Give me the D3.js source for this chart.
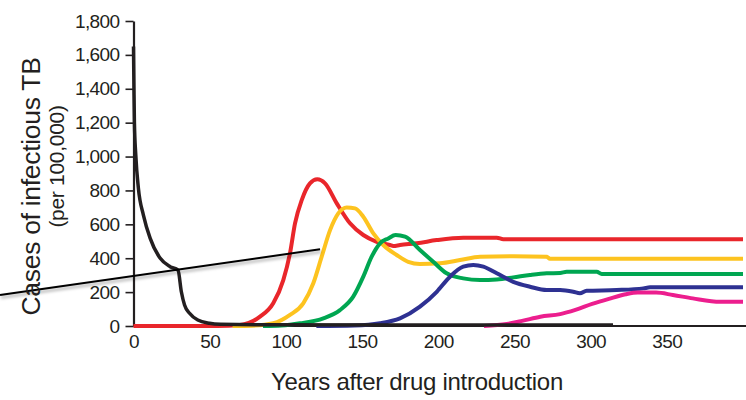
<!DOCTYPE html>
<html>
<head>
<meta charset="utf-8">
<script src="https://cdn.jsdelivr.net/npm/d3@7"></script>
<style>
  body { margin: 0; background: #fff; }
  svg { display: block; }
  text { font-family: "Liberation Sans", Arial, Helvetica, sans-serif; fill: #231f20; }
</style>
</head>
<body>
<svg id="chart" width="746" height="400"></svg>
<script>
// Axis ticks
const yearTicks = [0, 50, 100, 150, 200, 250, 300, 350];
const caseTicks = [0, 200, 400, 600, 800, 1000, 1200, 1400, 1600, 1800];

// Cases of infectious TB per 100,000, as [years after introduction, cases]
const drugSensitive = [
  [0, 1650], [0.3, 1400], [0.6, 1200], [1.5, 1009], [3.2, 814], [6.5, 655],
  [10.9, 519], [17.4, 401], [24, 350], [29.2, 330], [31.4, 202], [33.5, 124],
  [36.8, 75], [42.2, 35], [49.9, 16], [57, 10], [80, 7], [200, 6], [314.7, 6]
];
const strain1 = [
  [0, 0], [55, 0], [69.9, 6], [83, 55], [91.7, 134], [98.3, 271], [102.7, 429],
  [106, 606], [110.4, 743], [115.8, 842], [120.6, 866], [125.7, 842], [133.4, 724],
  [142.1, 606], [150.8, 537], [159.6, 497], [168.3, 478], [170.5, 472], [174.9, 478],
  [185.9, 488], [199, 507], [216.4, 521], [238.4, 521], [242.7, 512], [400, 512]
];
const strain2 = [
  [65, 0], [78, 2], [91.7, 16], [102.7, 65], [111.4, 134], [118, 252], [123.5, 409],
  [129, 566], [134.4, 665], [139.9, 700], [145.4, 694], [150.8, 645], [157.4, 547],
  [163.9, 478], [172.7, 419], [180.3, 379], [188, 366], [201.1, 370], [214.3, 389],
  [227.4, 409], [249.2, 412], [271.2, 409], [273.3, 397], [400, 397]
];
const strain3 = [
  [85, 0], [97, 3], [109.3, 16], [124.6, 45], [135.5, 94], [144.2, 173], [150.8, 291],
  [156.3, 409], [161.8, 488], [167.2, 517], [172, 537], [178.2, 527], [188, 448],
  [196.7, 379], [205.5, 311], [216.4, 281], [227.4, 271], [238.4, 275], [249.2, 287],
  [260.2, 301], [271.2, 311], [280, 313], [284.3, 320], [304, 320], [307.3, 307], [400, 307]
];
const strain4 = [
  [120, 0], [145, 3], [161.8, 16], [174.9, 45], [188, 114], [199, 202], [207.7, 291],
  [216.4, 350], [223, 360], [229.6, 350], [238.4, 311], [249.2, 261], [260.2, 232],
  [271.2, 212], [280, 212], [288.6, 202], [293, 193], [297.4, 208], [317.1, 212],
  [334.6, 222], [339, 228], [400, 228]
];
const strain5 = [
  [230, 0], [245, 12], [255, 30], [267, 55], [280, 70], [290, 95], [301, 130],
  [312, 160], [323, 187], [331, 197], [343, 197], [354, 183], [367, 163], [385, 143], [400, 143]
];

// Pointer line, in [years, cases]
const pointer = [[-87.6, 183], [122.4, 453]];

const series = [
  { points: strain1, color: "#e9262b", width: 4 },
  { points: strain2, color: "#fdc31f", width: 4 },
  { points: strain3, color: "#00a651", width: 4 },
  { points: strain4, color: "#2e3192", width: 4 },
  { points: strain5, color: "#ec1e8e", width: 4 },
  { points: drugSensitive, color: "#231f20", width: 3.5 }
];

const svg = d3.select("#chart");

const x = d3.scaleLinear().domain([0, 400]).range([133.5, 743]);
const y = d3.scaleLinear().domain([0, 1800]).range([326, 21]);

const defs = svg.append("defs");
const shadow = defs.append("filter").attr("id", "soft-shadow")
  .attr("x", "-10%").attr("y", "-200%").attr("width", "120%").attr("height", "500%");
shadow.append("feDropShadow")
  .attr("dx", 1).attr("dy", 2.5).attr("stdDeviation", 1.6)
  .attr("flood-color", "#000").attr("flood-opacity", 0.35);

// Axes
const yAxis = d3.axisLeft(y)
  .tickValues(caseTicks)
  .tickFormat(d3.format(","))
  .tickSize(8).tickSizeOuter(0).tickPadding(6);

const gy = svg.append("g").attr("transform", `translate(${x(0)},0)`).call(yAxis);
gy.select(".domain").attr("stroke", "#231f20").attr("stroke-width", 2.2);
gy.selectAll(".tick line").attr("stroke", "#231f20").attr("stroke-width", 1.6);
gy.selectAll(".tick text")
  .style("font-size", "19px").attr("letter-spacing", "-0.6px").attr("fill", "#231f20");

const xAxis = d3.axisBottom(x)
  .tickValues(yearTicks)
  .tickSize(0).tickSizeOuter(0).tickPadding(9);

const gx = svg.append("g").attr("transform", `translate(0,${y(0)})`).call(xAxis);
gx.select(".domain").attr("stroke", "#231f20").attr("stroke-width", 1.8)
  .attr("d", `M${x(0)},0H746`);
gx.selectAll(".tick text")
  .style("font-size", "19px").attr("letter-spacing", "-0.6px").attr("fill", "#231f20");

// Series lines (drug-sensitive curve drawn last, on top)
const line = d3.line()
  .x(d => x(d[0]))
  .y(d => y(d[1]))
  .curve(d3.curveMonotoneX);

svg.append("g").selectAll("path")
  .data(series)
  .join("path")
  .attr("d", d => line(d.points))
  .attr("fill", "none")
  .attr("stroke", d => d.color)
  .attr("stroke-width", d => d.width)
  .attr("stroke-linejoin", "round")
  .attr("stroke-linecap", "butt");

// Pointer line
svg.append("path")
  .attr("d", d3.line().x(d => x(d[0])).y(d => y(d[1]))(pointer))
  .attr("fill", "none")
  .attr("stroke", "#000")
  .attr("stroke-width", 2)
  .attr("filter", "url(#soft-shadow)");

// Axis titles
svg.append("text")
  .attr("transform", "translate(40,186.5) rotate(-90)")
  .attr("text-anchor", "middle")
  .style("font-size", "26.5px")
  .attr("letter-spacing", "-0.3px")
  .text("Cases of infectious TB");

svg.append("text")
  .attr("transform", "translate(64,166.5) rotate(-90)")
  .attr("text-anchor", "middle")
  .style("font-size", "21px")
  .attr("letter-spacing", "-0.3px")
  .text("(per 100,000)");

svg.append("text")
  .attr("x", 417)
  .attr("y", 390)
  .attr("text-anchor", "middle")
  .style("font-size", "24px")
  .attr("letter-spacing", "-0.3px")
  .text("Years after drug introduction");
</script>
</body>
</html>
